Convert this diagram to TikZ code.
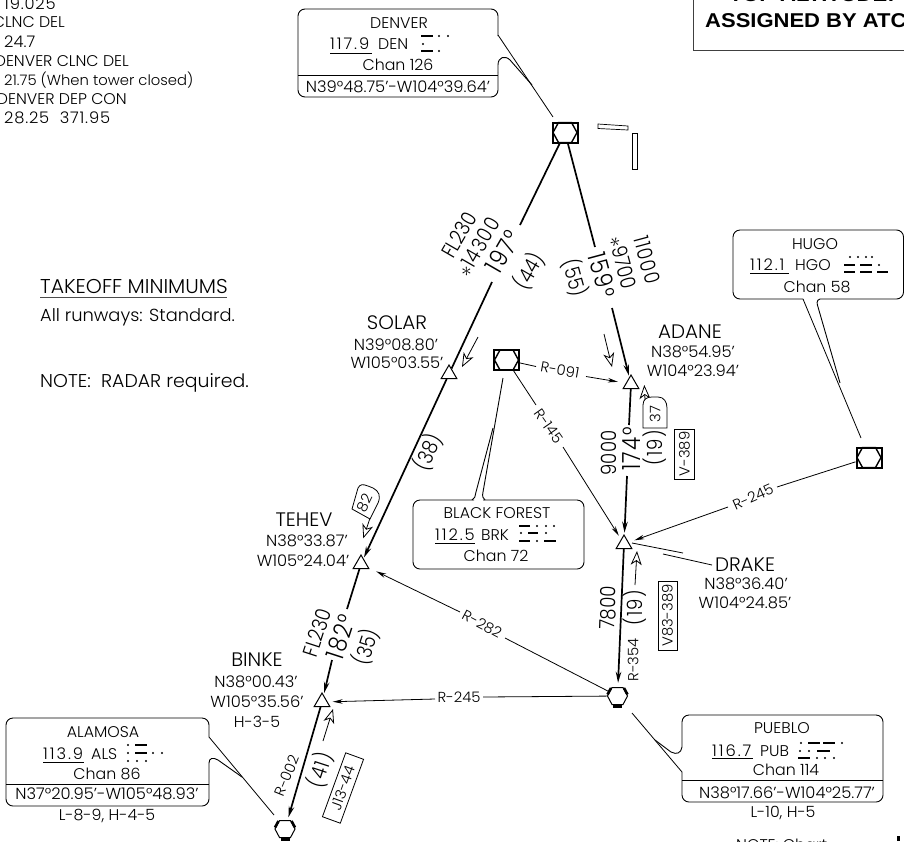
\documentclass[tikz,border=0pt]{standalone}
\usepackage{fontspec}
\usetikzlibrary{arrows.meta,shapes.geometric}
\setmainfont[FakeStretch=1.02]{Poppins Light}
\newfontfamily\nfont[FakeStretch=0.86]{Poppins Light}
\newfontfamily\lsfont[FakeStretch=0.86,LetterSpace=6]{Poppins Light}
\newfontfamily\frqfont[FakeStretch=1.02,LetterSpace=12]{Poppins Light}
\newfontfamily\hdfont[FakeStretch=1.02,LetterSpace=5]{Poppins Light}
\newfontfamily\boldarial[FakeStretch=1.1]{Liberation Sans Bold}
\newcommand{\fsz}[1]{\fontsize{#1}{#1}\selectfont}
\newcommand{\mdashx}[3]{\fill (#1,#3-1.2) rectangle (#2,#3+1.2);}
\newcommand{\mdotx}[2]{\fill (#1,#2) circle (1.2);}
\newcommand{\vorsym}[3]{%
  \node[vorsq] (#1) at (#2,#3) {};
  \begin{scope}[shift={(#2,#3)}]
    \draw[line width=1.4] (-12,0)--(-6.5,-10)--(6.5,-10)--(12,0)--(6.5,10)--(-6.5,10)--cycle;
  \end{scope}}
\newcommand{\vortacsym}[3]{%
  \node[vortacnode] (#1) at (#2,#3) {};
  \begin{scope}[shift={(#2,#3)}]
    \draw[line width=1] (-10,0)--(-5.5,-8.5)--(5.5,-8.5)--(10,0)--(5.5,8.5)--(-5.5,8.5)--cycle;
    \fill (-4.5,8.5) rectangle (4.5,11.5);
    \draw[line width=2.6] (-10,-1.5)--(-6.5,-8);
    \draw[line width=2.6] (10,-1.5)--(6.5,-8);
  \end{scope}}
\tikzset{
  vorsq/.style={draw,fill=white,rectangle,line width=2,minimum width=25,minimum height=20,inner sep=0},
  vortacnode/.style={circle,inner sep=0,minimum size=20},
  wpt/.style={draw,fill=white,regular polygon,regular polygon sides=3,line width=1,inner sep=0,minimum size=18},
  course/.style={line width=1.7,-{Stealth[length=11,width=5.5]}},
  coursep/.style={line width=1.7},
  rad/.style={line width=0.8,-{Stealth[length=10,width=4.5]}},
  radp/.style={line width=0.8},
  feed/.style={line width=0.8,-{Stealth[open,fill=white,length=14,width=11,inset=4,line width=0.8]}},
  calloutb/.style={line width=0.9,rounded corners=7,fill=white},
  lead/.style={line width=0.8},
  txt/.style={inner sep=0,font=\fsz{15.5}},
  crd/.style={inner sep=0,font=\fsz{16}},
  frq/.style={inner sep=0,font=\frqfont\fsz{16}},
  hdr/.style={inner sep=0,font=\hdfont\fsz{16}},
  wname/.style={inner sep=0,font=\fsz{19.5}},
  num/.style={inner sep=0,font=\nfont\fsz{21}},
  lsnum/.style={inner sep=0,font=\lsfont\fsz{21}},
  bignum/.style={inner sep=0,font=\lsfont\fsz{25}},
  radl/.style={inner sep=0,font=\fsz{14.5}},
  awy/.style={draw,line width=0.8,inner sep=2.5,font=\fsz{14.5},fill=white},
}
\begin{document}
\begin{tikzpicture}[x=1pt,y=-1pt]
\useasboundingbox (0,0) rectangle (904,841);
\clip (0,0) rectangle (904,841);
\fill[white] (0,0) rectangle (904,841);

% left header
\node[hdr,anchor=west] (l1) at (4,4) {19.025};
\node[txt,anchor=east] (l2) at (65,22) {CLNC DEL};
\node[crd,anchor=west] (l3) at (4,42) {24.7};
\node[txt,anchor=east] (l4) at (129,61) {DENVER CLNC DEL};
\node[txt,anchor=west,font=\fsz{14.5}] (l5) at (4,80) {21.75 (When tower closed)};
\node[txt,anchor=east] (l6) at (127,99) {DENVER DEP CON};
\node[hdr,anchor=west] (l7) at (4,118) {28.25\ \ 371.95};

\node[txt,anchor=west,font=\fsz{20}] (tk) at (40,286) {TAKEOFF MINIMUMS};
\draw[line width=1.3,black!70] (40,297.5) -- (227,297.5);
\node[txt,anchor=west,font=\fsz{17.5}] (tk2) at (40,317) {All runways: Standard.};
\node[txt,anchor=west,font=\fsz{18.5}] (rd) at (40,383) {NOTE:\ \ RADAR required.};

% top right box
\draw[line width=1,black!75] (693,-5) -- (693,50) -- (910,50);
\node[inner sep=0,anchor=west,font=\boldarial\fsz{20}] (tp) at (729,-5) {TOP ALTITUDE:};
\node[inner sep=0,anchor=west,font=\boldarial\fsz{20}] (as) at (705,21) {ASSIGNED BY ATC};

% bottom right
\node[txt,anchor=north west] (nt) at (736,838.5) {NOTE: Chart};
\fill (897,836) rectangle (899.5,841);

% runways
\draw[line width=0.7] (598,124)--(628,126)--(628,130)--(598,128.5)--cycle;
\draw[line width=0.7] (632.5,133) rectangle (637.5,169);

% facilities
\vorsym{den}{565}{132.5}
\vorsym{brk}{506.5}{360}
\vorsym{hgo}{869}{457.5}
\vortacsym{pub}{617.5}{696}
\vortacsym{als}{285}{829}

% waypoints
\node[wpt] (sol) at (449,374) {};
\node[wpt] (ada) at (631,384) {};
\node[wpt] (dra) at (624,544) {};
\node[wpt] (teh) at (361,564) {};
\node[wpt] (bin) at (322,702) {};

% named ends of broken connectors
\coordinate (a1) at (520,225);
\coordinate (a2) at (492,282);
\coordinate (b1) at (595,247);
\coordinate (b2) at (612,308);
\coordinate (c1) at (629,425);
\coordinate (c2) at (627,476);
\coordinate (d1) at (347,609);
\coordinate (d2) at (332,660);
\coordinate (r1a) at (536,366.5);
\coordinate (r1b) at (586,376.5);
\coordinate (r2a) at (536,405);
\coordinate (r2b) at (563,447);
\coordinate (r3a) at (777,487);
\coordinate (r3b) at (728,507);
\coordinate (r4a) at (505,638);
\coordinate (r4b) at (460,612);
\coordinate (r5a) at (483,697);
\coordinate (r5b) at (435,699);

% course lines
\draw[coursep] (den) -- (a1);
\draw[coursep] (a2) -- (sol);
\draw[course,shorten >=1] (sol) -- (teh);
\draw[coursep] (den) -- (b1);
\draw[course,shorten >=1.5] (b2) -- (ada);
\draw[coursep] (ada) -- (c1);
\draw[course,shorten >=2] (c2) -- (dra);
\draw[course,shorten >=3] (dra) -- (pub);
\draw[coursep] (teh) -- (d1);
\draw[course,shorten >=2] (d2) -- (bin);
\draw[course,shorten >=2] (bin) -- (als);

% radials
\draw[radp] (brk) -- (r1a);
\draw[rad,shorten >=8] (r1b) -- (ada);
\draw[radp] (brk) -- (r2a);
\draw[rad,shorten >=4] (r2b) -- (dra);
\draw[radp] (hgo) -- (r3a);
\draw[rad,shorten >=6] (r3b) -- (dra);
\draw[radp] (pub) -- (r4a);
\draw[rad,shorten >=8] (r4b) -- (teh);
\draw[radp] (pub) -- (r5a);
\draw[rad,shorten >=5] (r5b) -- (bin);

% feeder arrows
\coordinate (f1) at (478,337);
\coordinate (f1t) at (462,367);
\draw[feed] (f1) -- (f1t);
\coordinate (f2) at (604,334);
\coordinate (f2t) at (612,367);
\draw[feed] (f2) -- (f2t);
\coordinate (f3) at (645,400);
\coordinate (f3t) at (644.3,385);
\draw[feed] (f3) -- (f3t);
\coordinate (f4) at (635,585);
\coordinate (f4t) at (637,551);
\draw[feed] (f4) -- (f4t);
\coordinate (f5) at (370,518);
\coordinate (f5t) at (363.3,538.3);
\draw[feed] (f5) -- (f5t);
\coordinate (f6) at (323,741);
\coordinate (f6t) at (333,709);
\draw[feed] (f6) -- (f6t);

% distance flags
\draw[line width=0.8,fill=white] (643,428) -- (643,405) .. controls (643,399) and (647,397) .. (652,397) -- (658,397) .. controls (664,397) and (667,402) .. (667,408) -- (667,428) -- cycle;
\node[inner sep=0,rotate=90,font=\fsz{14.5}] (fl37) at (655,414) {37};
\draw[line width=0.8,fill=white] (352,509) -- (370,519) -- (378,503) .. controls (381,496) and (379,491) .. (373,488) -- (368,486) .. controls (363,484) and (360,484) .. (358,488) -- cycle;
\node[inner sep=0,rotate=64,font=\fsz{14.5}] (fl82) at (365,503) {82};

% airway boxes
\node[awy,rotate=90,minimum width=50,minimum height=20] (v389) at (684.5,454) {V-389};
\node[awy,rotate=90,minimum width=69,minimum height=19] (v83) at (667.5,615.5) {V83-389};
\node[awy,rotate=70,minimum width=68,minimum height=19] (j13) at (343,788) {J13-44};

% course labels
\node[num,rotate=60] (t1) at (459,235) {FL230};
\node[lsnum,rotate=60] (t2) at (478,247) {$\ast$14300};
\node[bignum,rotate=60] (t3) at (503,252) {197°};
\node[num,rotate=60] (t4) at (529,271) {(44)};
\node[lsnum,rotate=-75] (t5) at (647,260) {11000};
\node[num,rotate=-75] (t6) at (623,262) {$\ast$9700};
\node[bignum,rotate=-75] (t7) at (602,275) {159°};
\node[num,rotate=-75] (t8) at (575,278) {(55)};
\node[num,rotate=65] (t9) at (428,452) {(38)};
\node[num,rotate=90] (t10) at (609,453) {9000};
\node[bignum,rotate=90] (t11) at (632,449) {174°};
\node[lsnum,rotate=90] (t12) at (655,448) {(19)};
\node[num,rotate=88] (t13) at (608,608) {7800};
\node[lsnum,rotate=90] (t14) at (635,608) {(19)};
\node[num,rotate=72] (t15) at (317,633) {FL230};
\node[bignum,rotate=72] (t16) at (341,637) {182°};
\node[num,rotate=72] (t17) at (366,647) {(35)};
\node[lsnum,rotate=72] (t18) at (320,770) {(41)};

% radial labels
\node[radl,rotate=-10] (q1) at (560,370) {R-091};
\node[radl,rotate=-55] (q2) at (549,426) {R-145};
\node[radl,rotate=24] (q3) at (753,497) {R-245};
\node[radl,rotate=-28] (q4) at (482,624) {R-282};
\node[radl] (q5) at (459,697) {R-245};
\node[radl,rotate=90] (q6) at (633,660) {R-354};
\node[radl,rotate=68] (q7) at (287,776) {R-002};

% waypoint labels
\node[wname] (w1) at (397,323) {SOLAR};
\node[crd] (w1a) at (396,345) {N39°08.80'};
\node[crd] (w1b) at (397,363) {W105°03.55'};
\node[wname] (w2) at (690,332) {ADANE};
\node[crd] (w2a) at (693,352) {N38°54.95'};
\node[crd] (w2b) at (693,371) {W104°23.94'};
\node[wname] (w3) at (745,565) {DRAKE};
\node[crd] (w3a) at (746,584) {N38°36.40'};
\node[crd] (w3b) at (745,603) {W104°24.85'};
\node[wname] (w4) at (304,520) {TEHEV};
\node[crd] (w4a) at (307,541) {N38°33.87'};
\node[crd] (w4b) at (303,561) {W105°24.04'};
\node[wname] (w5) at (257,660) {BINKE};
\node[crd] (w5a) at (256,682) {N38°00.43'};
\node[crd] (w5b) at (257,702) {W105°35.56'};
\node[txt] (w5c) at (257,722) {H-3-5};

% Drake leader
\coordinate (dk0) at (632,543);
\coordinate (dk1) at (683,553);
\coordinate (dk2) at (663,554);
\coordinate (dk3) at (712,565);
\draw[lead] (dk0) -- (dk1);
\draw[lead] (dk2) -- (dk3);

% DENVER callout
\coordinate (dnt) at (553,117);
\draw[calloutb] (498,36) -- (498,9) -- (298,9) -- (298,97) -- (498,97) -- (498,72);
\draw[line width=0.9] (498,72) -- (498,65) .. controls (498,57) and (505,55) .. (510,60) -- (532,85);
\draw[lead] (498,35) -- (dnt);
\draw[line width=0.9] (298,75) -- (498,75);
\node[txt] (dn1) at (399,23) {DENVER};
\node[frq,anchor=west] (dn2) at (330,44) {117.9};
\draw[line width=0.8] (330,53) -- (372,53);
\node[txt,anchor=west] (dn3) at (378,44) {DEN};
\mdashx{421}{433}{36} \mdotx{439}{36} \mdotx{448}{36}
\mdotx{423}{44}
\mdashx{421}{433}{51} \mdotx{439}{51}
\node[txt] (dn4) at (398,65) {Chan 126};
\node[crd] (dn5) at (398,87) {N39°48.75'-W104°39.64'};

% HUGO callout
\coordinate (hgt) at (861,438);
\draw[calloutb] (803,299) -- (733,299) -- (733,230) -- (903.5,230) -- (903.5,299) -- (820,299);
\draw[line width=0.9] (820,299) .. controls (816,300) and (817,304) .. (818,307) -- (840,383);
\draw[lead] (803,299) -- (hgt);
\node[txt] (hg1) at (815,244) {HUGO};
\node[frq,anchor=west] (hg2) at (750,265) {112.1};
\draw[line width=0.8] (750,273) -- (789,273);
\node[txt,anchor=west] (hg3) at (795,265) {HGO};
\mdotx{850}{257} \mdotx{858}{257} \mdotx{866}{257} \mdotx{872}{257}
\mdashx{844}{855}{265} \mdashx{860}{872}{265} \mdotx{879}{265}
\mdashx{844}{855}{272} \mdashx{860}{872}{272} \mdashx{877}{888}{272}
\node[txt] (hg4) at (817,287) {Chan 58};

% BLACK FOREST callout
\coordinate (bft) at (503,378);
\draw[calloutb] (474,500) -- (413,500) -- (413,569) -- (584,569) -- (584,500) -- (483,500);
\draw[line width=0.9] (472,500) .. controls (475,499) and (475,496) .. (476,492) -- (493,428);
\draw[line width=0.9] (485,500) .. controls (483,499) and (482,496) .. (483,492) -- (bft);
\node[txt] (bf1) at (497,513) {BLACK FOREST};
\node[frq,anchor=west] (bf2) at (435,535) {112.5};
\draw[line width=0.8] (435,543) -- (475,543);
\node[txt,anchor=west] (bf3) at (481,535) {BRK};
\mdashx{519}{530}{526} \mdotx{537}{526} \mdotx{546}{526} \mdotx{554}{526}
\mdotx{521}{533} \mdashx{528}{538}{533} \mdotx{546}{533}
\mdashx{519}{530}{541} \mdotx{537}{541} \mdashx{544}{556}{541}
\node[txt] (bf4) at (496,556) {Chan 72};

% PUEBLO callout
\coordinate (pbt) at (632,713);
\draw[calloutb] (682,772) -- (682,802) -- (883,802) -- (883,715) -- (682,715) -- (682,747);
\draw[line width=0.9] (682,747) .. controls (681,753) and (677,755) .. (671,752) -- (655,740);
\draw[lead] (682,772) -- (pbt);
\draw[line width=0.9] (682,780) -- (883,780);
\node[txt] (pb1) at (782,728) {PUEBLO};
\node[frq,anchor=west] (pb2) at (712,751) {116.7};
\draw[line width=0.8] (712,758.5) -- (753,758.5);
\node[txt,anchor=west] (pb3) at (760,751) {PUB};
\mdotx{801}{743} \mdashx{808}{820}{743} \mdashx{823}{835}{743} \mdotx{842}{743}
\mdotx{800}{751} \mdotx{809}{751} \mdashx{817}{830}{751}
\mdashx{798}{810}{758} \mdotx{817}{758} \mdotx{825}{758} \mdotx{834}{758}
\node[txt] (pb4) at (786,770) {Chan 114};
\node[crd] (pb5) at (787,793) {N38°17.66'-W104°25.77'};
\node[txt] (pb6) at (783,813) {L-10, H-5};

% ALAMOSA callout
\coordinate (alt) at (274,815);
\draw[calloutb] (209,737) -- (209,718) -- (6,718) -- (6,806) -- (209,806) -- (209,763);
\draw[line width=0.9] (209,763) .. controls (209,758) and (213,757) .. (218,760) -- (242,777);
\draw[lead] (209,737) -- (alt);
\draw[line width=0.9] (6,784) -- (209,784);
\node[txt] (al1) at (103,732) {ALAMOSA};
\node[frq,anchor=west] (al2) at (43,754) {113.9};
\draw[line width=0.8] (43,762) -- (84,762);
\node[txt,anchor=west] (al3) at (91,754) {ALS};
\mdotx{128}{745} \mdashx{135}{147}{745}
\mdotx{128}{753} \mdashx{135}{147}{753} \mdotx{153}{753} \mdotx{162}{753}
\mdotx{128}{761} \mdotx{137}{761} \mdotx{146}{761}
\node[txt] (al4) at (107,774) {Chan 86};
\node[crd] (al5) at (107,794) {N37°20.95'-W105°48.93'};
\node[txt] (al6) at (107,816) {L-8-9, H-4-5};
\end{tikzpicture}
\end{document}
